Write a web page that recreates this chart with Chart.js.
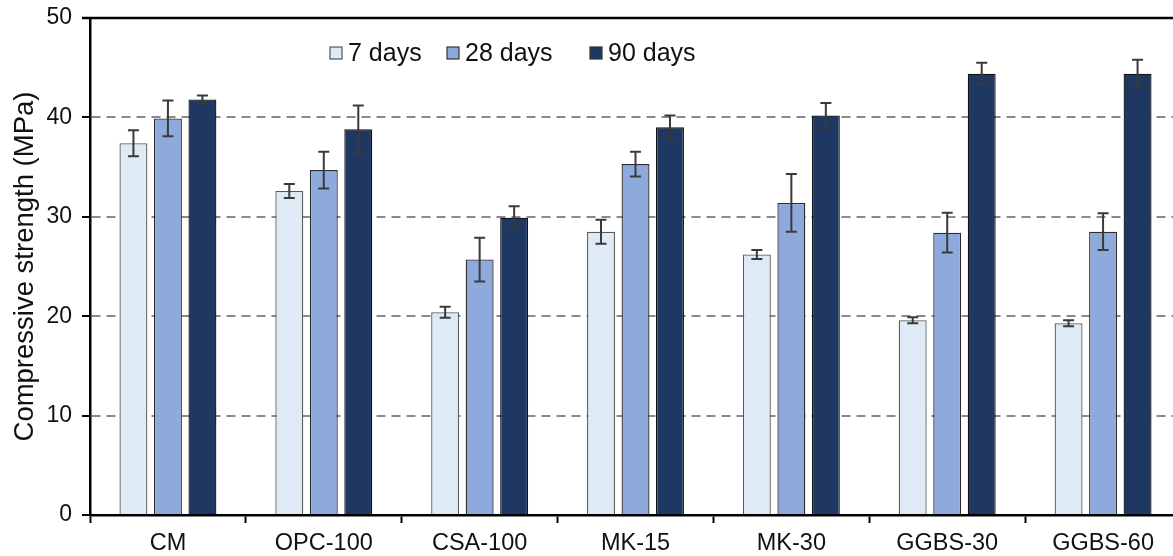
<!DOCTYPE html>
<html>
<head>
<meta charset="utf-8">
<script src="https://cdn.jsdelivr.net/npm/chart.js@4.4.0/dist/chart.umd.min.js"></script>
<style>
  html, body { margin: 0; padding: 0; background: #fff; overflow: hidden; }
  #wrap { position: relative; width: 1181px; height: 556px; }
</style>
</head>
<body>
<div id="wrap"><canvas id="chart"></canvas></div>
<script>
// Compressive strength of mortar mixes at three curing ages (mean ± std. dev.)
const categories = ['CM', 'OPC-100', 'CSA-100', 'MK-15', 'MK-30', 'GGBS-30', 'GGBS-60'];
const seriesNames = ['7 days', '28 days', '90 days'];

const strength7  = [37.4, 32.6, 20.4, 28.5, 26.2, 19.6, 19.3];
const error7     = [1.3, 0.7, 0.55, 1.2, 0.45, 0.3, 0.3];
const strength28 = [39.9, 34.7, 25.7, 35.3, 31.4, 28.4, 28.5];
const error28    = [1.8, 1.85, 2.2, 1.25, 2.9, 2.0, 1.85];
const strength90 = [41.8, 38.8, 29.9, 39.0, 40.2, 44.4, 44.4];
const error90    = [0.4, 2.4, 1.15, 1.2, 1.25, 1.1, 1.4];

const yTicks = [0, 10, 20, 30, 40, 50];

const fills   = ['#deeaf6', '#8eaadc', '#1f3763'];
const borders = ['#5a5a5a', '#2b2b2b', '#111111'];

const FONT = "'Liberation Sans', Arial, sans-serif";
Chart.defaults.font.family = FONT;
Chart.defaults.color = '#111';

// Error bars drawn from each bar's value and its standard deviation
const errorBars = {
  id: 'errorBars',
  afterDatasetsDraw(chart) {
    const { ctx } = chart;
    const y = chart.scales.y;
    chart.data.datasets.forEach((ds, i) => {
      const meta = chart.getDatasetMeta(i);
      meta.data.forEach((bar, j) => {
        const v = ds.data[j], e = ds.errors[j];
        const yHi = y.getPixelForValue(v + e);
        const yLo = y.getPixelForValue(v - e);
        const cap = 5.5;
        ctx.save();
        ctx.strokeStyle = '#3a3a3a';
        ctx.lineWidth = 2;
        ctx.beginPath();
        ctx.moveTo(bar.x, yHi); ctx.lineTo(bar.x, yLo);
        ctx.moveTo(bar.x - cap, yHi); ctx.lineTo(bar.x + cap, yHi);
        ctx.moveTo(bar.x - cap, yLo); ctx.lineTo(bar.x + cap, yLo);
        ctx.stroke();
        ctx.restore();
      });
    });
  }
};

// Top frame line of the plot area
const topFrame = {
  id: 'topFrame',
  afterDraw(chart) {
    const { ctx, chartArea } = chart;
    ctx.save();
    ctx.strokeStyle = '#000';
    ctx.lineWidth = 2.5;
    ctx.beginPath();
    ctx.moveTo(chartArea.left - 8, chartArea.top);
    ctx.lineTo(chartArea.right, chartArea.top);
    ctx.stroke();
    ctx.restore();
  }
};

// Legend row placed inside the plot area
const legendOffsets = [240, 357, 500];
const innerLegend = {
  id: 'innerLegend',
  afterDraw(chart) {
    const { ctx, chartArea } = chart;
    const size = 12;
    const yMid = chartArea.top + 35;
    ctx.save();
    ctx.font = '25px ' + FONT;
    ctx.textBaseline = 'middle';
    chart.data.datasets.forEach((ds, i) => {
      const x = chartArea.left + legendOffsets[i];
      ctx.fillStyle = ds.backgroundColor;
      ctx.fillRect(x, yMid - size / 2, size, size);
      ctx.strokeStyle = i === 0 ? '#555' : '#333';
      ctx.lineWidth = 1.2;
      ctx.strokeRect(x, yMid - size / 2, size, size);
      ctx.fillStyle = '#111';
      ctx.fillText(ds.label, x + size + 6, yMid + 1);
    });
    ctx.restore();
  }
};

const series = [
  { values: strength7,  errors: error7 },
  { values: strength28, errors: error28 },
  { values: strength90, errors: error90 }
];

new Chart(document.getElementById('chart'), {
  type: 'bar',
  data: {
    labels: categories,
    datasets: series.map((s, i) => ({
      label: seriesNames[i],
      data: s.values,
      errors: s.errors,
      backgroundColor: fills[i],
      borderColor: borders[i],
      borderWidth: 1.3,
      categoryPercentage: 0.664,
      barPercentage: 0.81
    }))
  },
  options: {
    responsive: true,
    maintainAspectRatio: false,
    animation: false,
    layout: { padding: { top: 18, right: 0, left: 0, bottom: 0 } },
    plugins: {
      legend: { display: false },
      tooltip: { enabled: false }
    },
    scales: {
      x: {
        offset: true,
        grid: {
          display: true,
          offset: true,
          drawOnChartArea: false,
          drawTicks: true,
          tickLength: 8,
          tickColor: '#000',
          tickWidth: 2
        },
        border: { display: true, color: '#000', width: 2.5 },
        ticks: { font: { size: 23.5 }, color: '#111', padding: 6, maxRotation: 0 },
        afterFit(scale) { scale.height = 41; }
      },
      y: {
        min: 0,
        max: 50,
        afterBuildTicks(scale) { scale.ticks = yTicks.map(v => ({ value: v })); },
        grid: {
          color: ctx => (ctx.tick && (ctx.tick.value === 0 || ctx.tick.value === 50)) ? 'rgba(0,0,0,0)' : '#8a8a8a',
          lineWidth: 2,
          tickColor: '#000',
          tickWidth: 2,
          tickLength: 8
        },
        border: { display: true, color: '#000', width: 2.5, dash: [9, 6] },
        ticks: { font: { size: 23 }, color: '#111', padding: 10 },
        title: {
          display: true,
          text: 'Compressive strength (MPa)',
          font: { size: 27.5 },
          color: '#111',
          padding: { top: 9, bottom: 0 }
        },
        afterFit(scale) {
          scale.width = 90;
          scale.paddingTop = 0;
          scale.paddingBottom = 0;
        }
      }
    }
  },
  plugins: [errorBars, topFrame, innerLegend]
});
</script>
</body>
</html>
